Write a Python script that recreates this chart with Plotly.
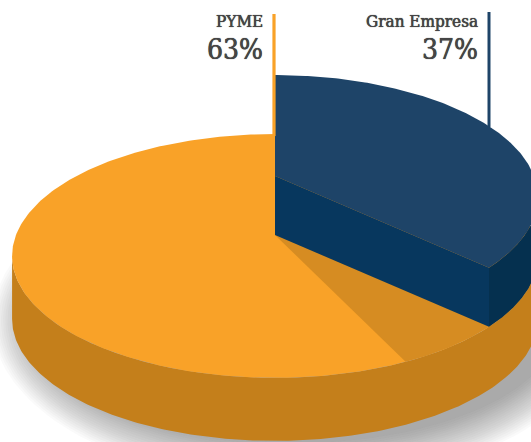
import numpy as np
import plotly.graph_objects as go

# Market share by company size
segments = ["PYME", "Gran Empresa"]
shares = [63, 37]

W, H = 531, 442
CX = 275            # horizontal centre of the disc
APEX_Y = 235        # screen height of the disc's true centre
PERSP = 0.172       # perspective strength of the tilted disc
RX, RY = 259, 118.3
RIM = 63            # thickness of the orange disc
LIFT = 59           # how far the blue slice rises above it
SHADE_SPREAD = 6    # share-points covered by the cast shade on the orange top

ORANGE_TOP = "#F9A228"
ORANGE_SHADE = "#D68C22"
ORANGE_RIM = "#C47F1B"
BLUE_TOP = "#1E4468"
BLUE_WALL = "#07375E"
BLUE_RIM = "#05304F"
TEXT = "#454545"


def project(theta, apex_y=APEX_Y, radius=1.0):
    """Perspective projection of a disc point; theta runs clockwise from the back."""
    u = radius * np.sin(theta)
    v = -radius * np.cos(theta)
    w = 1 - PERSP * v
    return CX + RX * u / w, apex_y + RY * v / w


def arc(a, b, apex_y=APEX_Y, n=220):
    return project(np.linspace(a, b, n), apex_y)


def share_angle(pct):
    return 2 * np.pi * pct / sum(shares)


fig = go.Figure()


def fill(x, y, colour):
    fig.add_trace(go.Scatter(x=list(x), y=list(y), mode="lines", fill="toself",
                             fillcolor=colour, line=dict(width=0),
                             hoverinfo="skip", showlegend=False))


# Soft contact shadow beneath the disc, built from stacked translucent ellipses
t = np.linspace(0, 2 * np.pi, 160)
LAYERS = 20
for i in range(LAYERS):
    grow = 42 * (1 - i / (LAYERS - 1))
    fill(297 + (263 + grow) * np.cos(t), 321 + (122 + grow) * np.sin(t),
         "rgba(60,60,65,0.028)")

blue_end = share_angle(shares[1])
shade_end = share_angle(shares[1] + SHADE_SPREAD)
right_edge = np.arccos(-PERSP)
left_edge = 2 * np.pi - right_edge

# Orange disc: rim, top face, and the shade cast by the raised slice
xa, ya = arc(right_edge, left_edge)
xb, yb = arc(left_edge, right_edge, APEX_Y + RIM)
fill(np.r_[xa, xb], np.r_[ya, yb], ORANGE_RIM)

xa, ya = arc(0, 2 * np.pi, n=400)
fill(xa, ya, ORANGE_TOP)

xa, ya = arc(0, shade_end)
fill(np.r_[CX, xa], np.r_[APEX_Y, ya], ORANGE_SHADE)

# Raised blue slice: outer rim, cut wall, top face
top_y = APEX_Y - LIFT
xa, ya = arc(right_edge, blue_end, top_y)
xb, yb = arc(blue_end, right_edge, APEX_Y)
fill(np.r_[xa, xb], np.r_[ya, yb], BLUE_RIM)

ex, ey_top = project(blue_end, top_y)
_, ey_low = project(blue_end, APEX_Y)
fill([CX, ex, ex, CX], [top_y, ey_top, ey_low, APEX_Y], BLUE_WALL)

xa, ya = arc(0, blue_end, top_y)
fill(np.r_[CX, xa], np.r_[top_y, ya], BLUE_TOP)

# Leader lines rising from each slice; the blue one stands above the slice's end
_, orange_back = project(0.0)
back_x, back_y = arc(0, right_edge, top_y)
blue_back = np.interp(ex, back_x, back_y)
fig.add_trace(go.Scatter(x=[CX - 1, CX - 1], y=[14, orange_back + 2], mode="lines",
                         line=dict(color=ORANGE_TOP, width=3.2),
                         hoverinfo="skip", showlegend=False))
fig.add_trace(go.Scatter(x=[ex, ex], y=[12, blue_back + 1], mode="lines",
                         line=dict(color=BLUE_TOP, width=3),
                         hoverinfo="skip", showlegend=False))

FONT = "DejaVu Serif Condensed, DejaVu Serif, serif"
THICKEN = "0 0 1px #454545, 0 0 0.5px #454545"
anchors = [265, 480]
for name, pct, ax in zip(segments, shares, anchors):
    fig.add_annotation(x=ax, y=21, text=name, showarrow=False, xanchor="right",
                       yanchor="middle",
                       font=dict(family=FONT, size=17, color=TEXT, shadow=THICKEN))
    fig.add_annotation(x=ax, y=49, text=f"{pct}%", showarrow=False, xanchor="right",
                       yanchor="middle",
                       font=dict(family=FONT, size=28, color=TEXT, shadow=THICKEN))

fig.update_layout(
    width=W, height=H, margin=dict(l=0, r=0, t=0, b=0),
    paper_bgcolor="white", plot_bgcolor="white", showlegend=False,
    xaxis=dict(range=[0, W], visible=False, fixedrange=True),
    yaxis=dict(range=[H, 0], visible=False, fixedrange=True),
)

fig.write_html("out.html", config=dict(displayModeBar=False))
